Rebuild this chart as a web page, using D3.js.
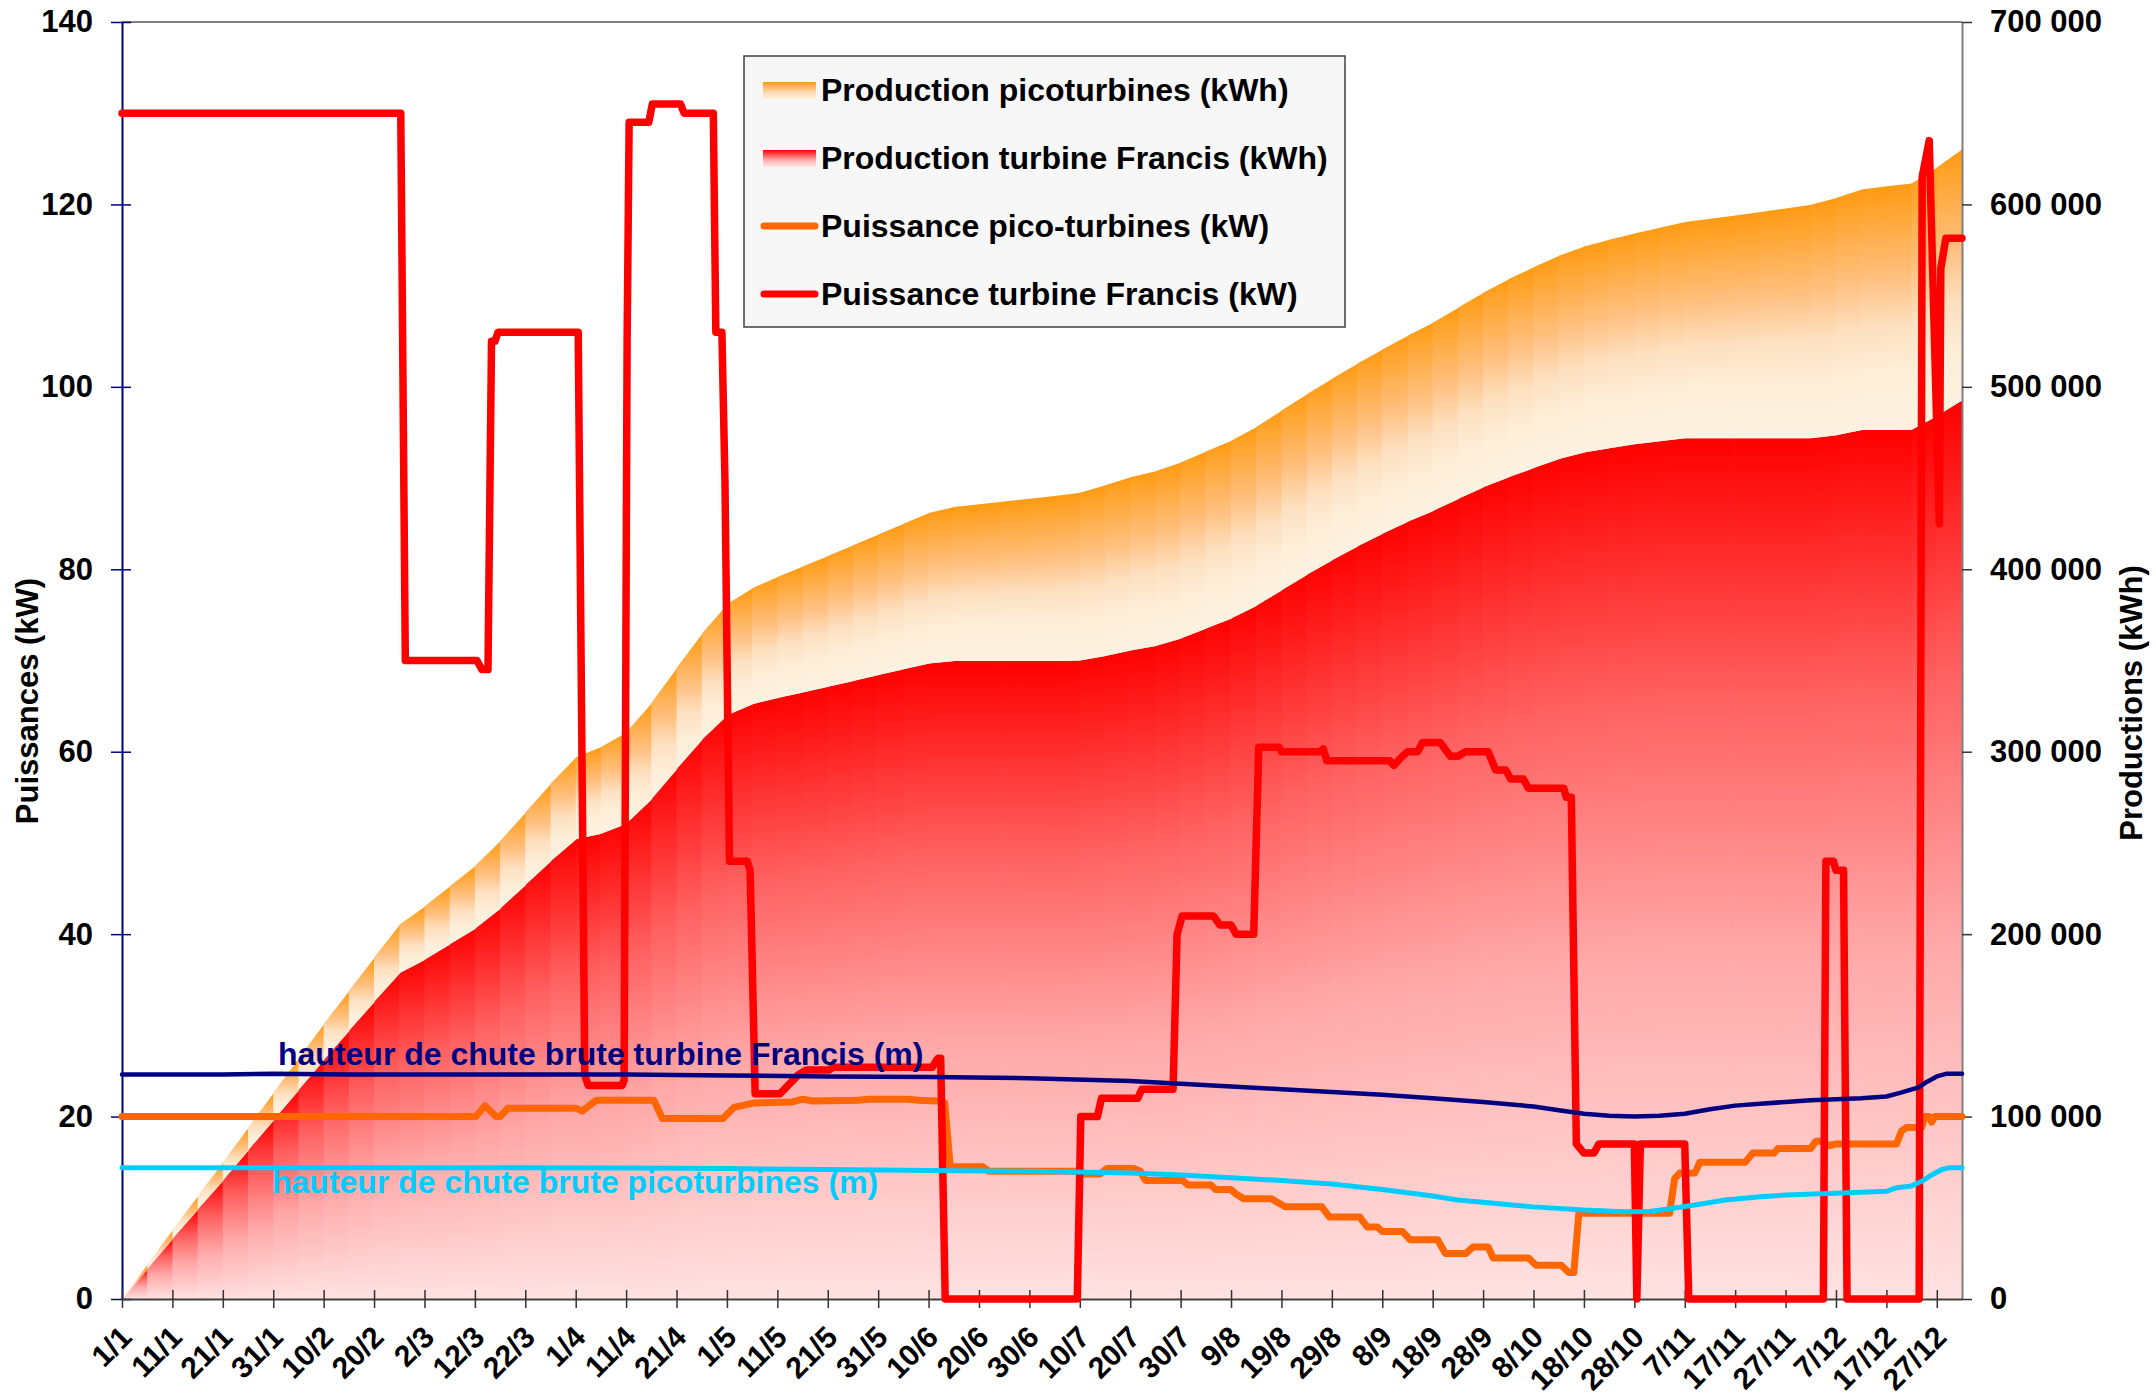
<!DOCTYPE html>
<html>
<head>
<meta charset="utf-8">
<script src="https://cdn.jsdelivr.net/npm/d3@7"></script>
<style>
  html, body { margin: 0; padding: 0; background: #ffffff; }
  svg text { font-family: "Liberation Sans", Arial, Helvetica, sans-serif; font-weight: bold; }
</style>
</head>
<body>
<svg id="chart" width="2156" height="1397"></svg>
<script>
// ---------------- DATA ----------------
// Cumulative productions (kWh), sampled every 5 days (day index from 1/1)
const days = [0,5,10,15,20,25,30,35,40,45,50,55,60,65,70,75,80,85,90,95,100,105,110,115,120,125,130,135,140,145,150,155,160,165,170,175,180,185,190,195,200,205,210,215,220,225,230,235,240,245,250,255,260,265,270,275,280,285,290,295,300,305,310,315,320,325,330,335,340,345,350,355,360,365];
const prodFrancis = [0,16500,33000,49000,65000,81500,98000,114500,131000,147000,163000,178500,186000,194500,203000,214000,227000,240000,252000,255000,260500,274000,290500,306500,320000,326000,329500,332500,335600,338800,342000,345200,348400,349700,349700,349700,349700,349700,350000,352500,355500,358000,362000,367500,373000,380000,388500,397000,405000,412500,419500,426000,432000,438500,445000,450500,455500,460500,464000,466300,468500,470200,471800,471800,471800,471800,471800,471800,473500,476300,476300,476500,484000,492700];
const prodPico = [0,2500,5000,7500,10000,12500,15000,17500,19700,22000,24200,26700,29200,31800,34400,37000,39700,42400,45000,47600,50000,52700,55400,58100,60900,63600,66300,69000,71700,74400,77100,79800,82500,84400,86000,87500,89000,90500,92000,93500,95000,95800,96500,97000,97500,98000,98500,99000,99500,100200,101000,102000,103200,104800,106600,108500,110000,111400,113000,114300,115600,117000,118500,120300,122100,124000,126000,128000,130000,131900,133600,135000,136200,137700];

// Powers (kW) as [day, value] vertices
const francisPower = [[0,130],[55.3,130],[56.2,70],[70.4,70],[71.4,69],[72.6,69],[73.3,105],[74,105],[74.6,106],[90.5,106],[91.8,24.5],[92.5,23.4],[99.2,23.4],[99.6,24],[100.2,105],[100.6,129],[104.5,129],[105.2,131],[110.8,131],[111.5,130],[117.3,130],[117.8,106],[119,106],[119.6,90],[120.5,48],[124,48],[124.6,47],[125.6,22.5],[130.5,22.5],[134,24.5],[135.7,25.1],[140.3,25.1],[141,25.4],[160.7,25.4],[161.9,26.4],[162.4,26.4],[163.3,0],[189.5,0],[190.2,20],[193.5,20],[194.3,22],[201.5,22],[202.3,23],[208.5,23],[209.3,40],[210.3,42],[216.5,42],[217.8,41],[220,41],[221,40],[224.5,40],[225.5,60.5],[229.5,60.5],[230,60],[237.6,60],[238.3,60.3],[239,59],[251.5,59],[252.3,58.5],[254,59.5],[255,60],[257,60],[258,61],[261.5,61],[263.5,59.5],[265,59.5],[266.5,60],[271,60],[272.5,58],[274.5,58],[275.5,57],[278,57],[279,56],[286,56],[286.5,55],[287.5,55],[288.5,17],[290,16],[292,16],[293,17],[300,17],[300.5,0],[301.2,17],[310,17],[310.8,0],[337.5,0],[338,48],[339.5,48],[340,47],[341.5,47],[342.2,0],[356.5,0],[357.1,123],[358.5,127],[360.5,85],[360.8,113],[361.8,116.3],[365,116.3]];
const picoPower = [[0,20],[70.2,20],[72,21.2],[74.2,20],[75,20],[76.5,20.9],[90.1,20.9],[91.3,20.6],[94.1,21.8],[105.5,21.8],[107.2,19.8],[119.2,19.8],[121.4,21],[125.4,21.5],[133,21.6],[135,21.9],[137,21.7],[146,21.8],[148,21.9],[156,21.9],[158,21.8],[162,21.7],[163.2,21.5],[164.3,14.5],[170.8,14.5],[172,14],[190,14],[191,13.7],[194,13.7],[195.4,14.3],[200.8,14.3],[202,14],[203,13],[210.4,13],[211.5,12.5],[216,12.5],[217,12],[220,12],[221,11.5],[222.5,11],[228,11],[229.5,10.5],[230.8,10.1],[238,10.1],[239.5,9],[245.5,9],[247,7.9],[249,7.9],[250,7.4],[254,7.4],[255.5,6.5],[261,6.5],[262.5,5],[266.6,5],[268,5.7],[271,5.7],[272,4.5],[279,4.5],[280.5,3.7],[285.5,3.7],[287,2.9],[288,2.9],[289,9.4],[307,9.4],[308,13.2],[309,13.8],[312,13.8],[313,15],[322,15],[323.5,16],[327.7,16],[328.5,16.5],[335,16.5],[336,17.3],[337.5,17.3],[338.6,16.8],[340,17],[352,17],[353,18.4],[354,18.8],[357,18.8],[357.6,20],[358.5,20],[359,19.4],[359.6,20],[365,20]];

// Heads (m), plotted on the left axis
const headFrancis = [[0,24.6],[20,24.6],[30,24.7],[45,24.6],[100,24.6],[120,24.5],[140,24.4],[160,24.35],[180,24.2],[200,23.9],[210,23.6],[220,23.3],[230,23.0],[240,22.7],[250,22.4],[260,22.0],[270,21.6],[280,21.1],[285,20.7],[290,20.3],[295,20.1],[300,20.0],[305,20.1],[310,20.3],[315,20.8],[320,21.2],[325,21.4],[330,21.6],[335,21.8],[340,21.9],[345,22.0],[350,22.2],[352.7,22.6],[356.4,23.2],[358,23.8],[360,24.4],[362,24.7],[365,24.7]];
const headPico = [[0,14.4],[40,14.4],[80,14.4],[100,14.35],[120,14.3],[140,14.2],[160,14.1],[180,14.0],[200,13.8],[210,13.6],[220,13.3],[230,13.0],[240,12.6],[250,12.0],[260,11.3],[265,10.85],[270,10.6],[280,10.1],[290,9.75],[298,9.57],[303,9.6],[307,9.9],[312,10.3],[318,10.85],[325,11.2],[330,11.4],[340,11.6],[350,11.8],[352,12.2],[355,12.4],[357,12.9],[359,13.6],[361,14.2],[362.5,14.4],[365,14.4]];

// Axis ticks and labels
const leftTicks = [0,20,40,60,80,100,120,140];
const rightTicks = [0,100000,200000,300000,400000,500000,600000,700000];
const xTickDays = [0,10,20,30,40,50,60,70,80,90,100,110,120,130,140,150,160,170,180,190,200,210,220,230,240,250,260,270,280,290,300,310,320,330,340,350,360];
const xTickLabels = ["1/1","11/1","21/1","31/1","10/2","20/2","2/3","12/3","22/3","1/4","11/4","21/4","1/5","11/5","21/5","31/5","10/6","20/6","30/6","10/7","20/7","30/7","9/8","19/8","29/8","8/9","18/9","28/9","8/10","18/10","28/10","7/11","17/11","27/11","7/12","17/12","27/12"];
const legendLabels = ["Production picoturbines (kWh)","Production turbine Francis (kWh)","Puissance pico-turbines (kW)","Puissance turbine Francis (kW)"];
const headLabels = ["hauteur de chute brute turbine Francis (m)","hauteur de chute brute picoturbines (m)"];

// ---------------- DRAWING ----------------
const svg = d3.select("#chart");
const L = 122, R = 1962, T = 22, B = 1299;
const x = d3.scaleLinear().domain([0,365]).range([L,R]);
const yL = d3.scaleLinear().domain([0,140]).range([B,T]);
const yR = d3.scaleLinear().domain([0,700000]).range([B,T]);
const FONT = '"Liberation Sans", Arial, Helvetica, sans-serif';

const defs = svg.append("defs");
function grad(id, stops){
  const g = defs.append("linearGradient").attr("id",id)
    .attr("x1",0).attr("y1",0).attr("x2",0).attr("y2",1);
  stops.forEach(([o,c]) => g.append("stop").attr("offset",o).attr("stop-color",c));
}
grad("gRed",    [[0,"#ff0000"],[0.3,"#ff6060"],[0.6,"#ffa8a8"],[1,"#ffe2e2"]]);
grad("gOrange", [[0,"#ff9a10"],[0.38,"#ffc080"],[0.58,"#fde0c0"],[0.77,"#fdeed8"],[1,"#fdf2e2"]]);
grad("gRedL",   [[0,"#ff0000"],[0.6,"#ffb0b0"],[1,"#ffe8e8"]]);
grad("gOrangeL",[[0,"#ff9a10"],[0.6,"#fdd8b0"],[1,"#fdf2e2"]]);

defs.append("clipPath").attr("id","plotClip").append("rect")
  .attr("x",L).attr("y",T).attr("width",R-L).attr("height",B-T);

// Stacked cumulative areas, drawn segment by segment (each with its own gradient)
const table = days.map((d,i) => ({day:d, francis:prodFrancis[i], pico:prodPico[i]}));
const stacked = d3.stack().keys(["francis","pico"])(table);
const segArea = d3.area()
  .x((d,j) => x(d.data.day) + (j === 1 ? 0.7 : 0))
  .y0(d => yR(d[0]))
  .y1(d => yR(d[1]));
const areasG = svg.append("g").attr("clip-path","url(#plotClip)");
stacked.forEach((s,k) => {
  const g = areasG.append("g");
  for (let i = 0; i < s.length - 1; i++) {
    g.append("path")
      .attr("d", segArea([s[i], s[i+1]]))
      .attr("fill", k === 0 ? "url(#gRed)" : "url(#gOrange)");
  }
});

// Plot top border
svg.append("line").attr("x1",L).attr("x2",R).attr("y1",T).attr("y2",T)
  .attr("stroke","#808080").attr("stroke-width",2);

// Left axis
const gL = svg.append("g").attr("transform",`translate(${L},0)`)
  .call(d3.axisLeft(yL).tickValues(leftTicks).tickSize(0).tickPadding(29));
gL.select(".domain").attr("stroke","#000080").attr("stroke-width",2);
gL.selectAll(".tick line").attr("x1",-11).attr("x2",9).attr("stroke","#000080").attr("stroke-width",1.5);
gL.selectAll(".tick text").attr("font-size",31).attr("font-family",FONT).attr("font-weight","bold").attr("fill","#000");

// Right axis
const fmt = d3.formatLocale({decimal:",", thousands:" ", grouping:[3], currency:["",""]}).format(",");
const gR = svg.append("g").attr("transform",`translate(${R},0)`)
  .call(d3.axisRight(yR).tickValues(rightTicks).tickSize(0).tickPadding(28).tickFormat(fmt));
gR.select(".domain").attr("stroke","#808080").attr("stroke-width",2);
gR.selectAll(".tick line").attr("x1",0).attr("x2",10).attr("stroke","#333").attr("stroke-width",1.5);
gR.selectAll(".tick text").attr("font-size",31).attr("font-family",FONT).attr("font-weight","bold").attr("fill","#000");

// Bottom axis
const gB = svg.append("g").attr("transform",`translate(0,${B})`)
  .call(d3.axisBottom(x).tickValues(xTickDays).tickSize(0).tickFormat((d,i) => xTickLabels[i]));
gB.select(".domain").attr("stroke","#404040").attr("stroke-width",2);
gB.selectAll(".tick line").attr("y1",-9).attr("y2",9).attr("stroke","#333").attr("stroke-width",1.5);
gB.selectAll(".tick text")
  .attr("font-size",30).attr("font-family",FONT).attr("font-weight","bold").attr("fill","#000")
  .attr("x",0).attr("y",0).attr("dy",0)
  .attr("text-anchor","end")
  .attr("transform","translate(11,40) rotate(-45)");

// Axis titles
svg.append("text").attr("transform","translate(38,701) rotate(-90)")
  .attr("text-anchor","middle").attr("font-size",31).attr("fill","#000").text("Puissances (kW)");
svg.append("text").attr("transform","translate(2142,703) rotate(-90)")
  .attr("text-anchor","middle").attr("font-size",31).attr("fill","#000").text("Productions (kWh)");

// Lines
const line = d3.line().x(d => x(d[0])).y(d => yL(d[1]));
const linesG = svg.append("g").attr("fill","none").attr("stroke-linejoin","round").attr("stroke-linecap","round");
linesG.append("path").attr("d", line(picoPower)).attr("stroke","#ff6600").attr("stroke-width",7);
linesG.append("path").attr("d", line(francisPower)).attr("stroke","#ff0000").attr("stroke-width",7.5);
linesG.append("path").attr("d", line(headFrancis)).attr("stroke","#000080").attr("stroke-width",4.5);
linesG.append("path").attr("d", line(headPico)).attr("stroke","#00ccff").attr("stroke-width",5);

// Head labels
svg.append("text").attr("x",278).attr("y",1065).attr("font-size",32).attr("fill","#000080").text(headLabels[0]);
svg.append("text").attr("x",272).attr("y",1193).attr("font-size",32).attr("fill","#00ccff").text(headLabels[1]);

// Legend
const lg = svg.append("g");
lg.append("rect").attr("x",744).attr("y",56).attr("width",601).attr("height",271)
  .attr("fill","#f7f7f7").attr("stroke","#404040").attr("stroke-width",1.5);
const rowY = [90,158,226,294];
const symbols = [
  {type:"rect", fill:"url(#gOrangeL)"},
  {type:"rect", fill:"url(#gRedL)"},
  {type:"line", stroke:"#ff6600"},
  {type:"line", stroke:"#ff0000"}
];
legendLabels.forEach((lab,i) => {
  const s = symbols[i], cy = rowY[i];
  if (s.type === "rect") {
    lg.append("rect").attr("x",763).attr("y",cy-8).attr("width",53).attr("height",17).attr("fill",s.fill);
  } else {
    lg.append("line").attr("x1",764).attr("x2",815).attr("y1",cy).attr("y2",cy)
      .attr("stroke",s.stroke).attr("stroke-width",7).attr("stroke-linecap","round");
  }
  lg.append("text").attr("x",821).attr("y",cy+11).attr("font-size",32).attr("fill","#000").text(lab);
});
</script>
</body>
</html>
